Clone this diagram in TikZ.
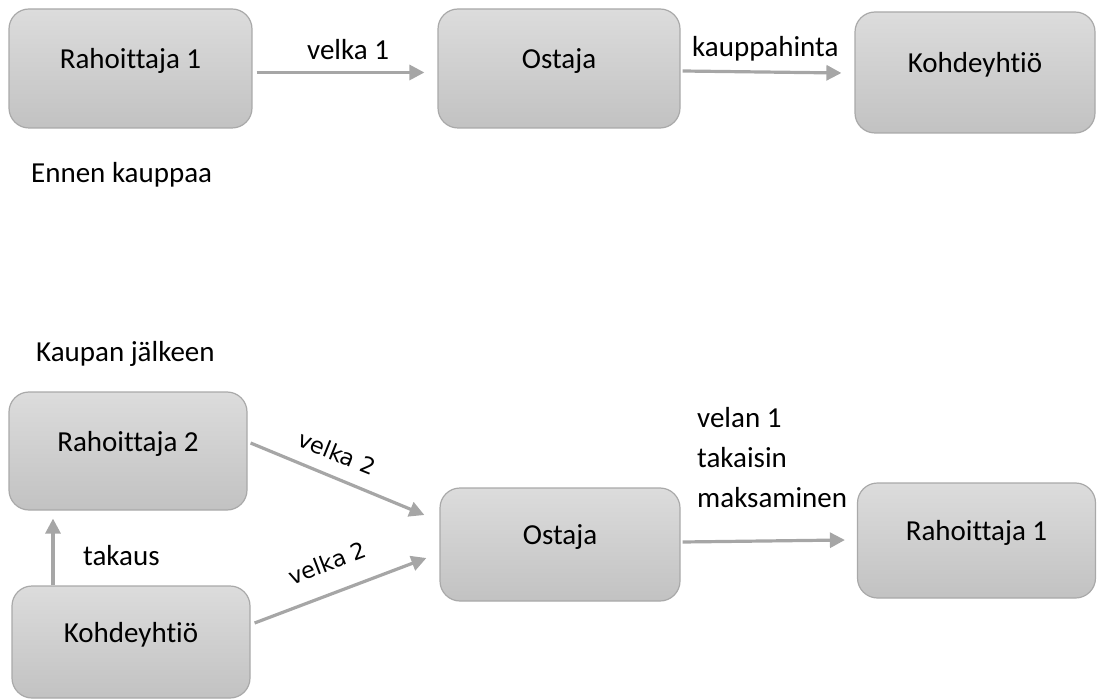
\documentclass[tikz,border=0pt]{standalone}
\usepackage{fontspec}
\setmainfont{Carlito}[Ligatures={NoCommon}]
\newfontfamily\labfont{DejaVu Sans}
\usetikzlibrary{arrows.meta}
\definecolor{boxtop}{HTML}{DCDCDC}
\definecolor{boxbot}{HTML}{C2C2C2}
\definecolor{boxline}{HTML}{A9A9A9}
\definecolor{arr}{HTML}{A6A6A6}
\begin{document}
\begin{tikzpicture}[x=1pt,y=-1pt,
  box/.style={draw=boxline, line width=1.2pt, rounded corners=20pt,
    top color=boxtop, bottom color=boxbot, inner sep=0pt,
    text height=10pt, text depth=10pt,
    font=\fontsize{29}{34}\selectfont},
  txt/.style={anchor=base west, inner sep=0pt, font=\fontsize{29}{34}\selectfont},
  rot/.style={inner sep=0pt, font=\labfont\fontsize{22.5}{26}\selectfont},
  arrow/.style={draw=arr, line width=3.2pt,
    -{Triangle[length=15pt,width=15pt]}, color=arr}]
\useasboundingbox (0,0) rectangle (1097,700);
% top row
\node[box, minimum width=243pt, minimum height=119pt] (r1a) at (130.5,68.5) {Rahoittaja 1};
\node[box, minimum width=242pt, minimum height=119pt] (osa) at (559,68.5) {Ostaja};
\node[box, minimum width=240pt, minimum height=121pt] (ka) at (975,72.5) {Kohdeyhtiö};
% bottom
\node[box, minimum width=238pt, minimum height=118pt] (r2) at (128,451) {Rahoittaja 2};
\node[box, minimum width=240pt, minimum height=113pt] (osb) at (560,544.5) {Ostaja};
\node[box, minimum width=238pt, minimum height=115pt] (r1b) at (976.5,540.5) {Rahoittaja 1};
\node[box, minimum width=238pt, minimum height=112pt] (kb) at (131,642) {Kohdeyhtiö};
% arrows
\draw[arrow] ([shift={(4,4)}]r1a.east) -- ([shift={(-13,4)}]osa.west);
\draw[arrow] ([shift={(2,2.5)}]osa.east) -- ([shift={(-13,0.5)}]ka.west);
\draw[arrow] ([xshift=-78pt]kb.north) -- ([shift={(-75,8)}]r2.south);
\draw[arrow] ([shift={(3,-8)}]r2.east) -- ([shift={(-15,-29.5)}]osb.west);
\draw[arrow] ([shift={(4,-19)}]kb.east) -- ([shift={(-13,13.5)}]osb.west);
\draw[arrow] ([shift={(2,-2.5)}]osb.east) -- ([shift={(-12,-0.5)}]r1b.west);
% labels
\node[txt] (l1) at (307,60) {velka 1};
\node[txt] (l2) at (692,57) {kauppahinta};
\node[txt] (l3) at (31,183) {Ennen kauppaa};
\node[txt] (l4) at (36,362) {Kaupan jälkeen};
\node[txt] (l5) at (83,565) {takaus};
\node[txt] (l6) at (697,427) {velan 1};
\node[txt] (l7) at (697,467) {takaisin};
\node[txt] (l8) at (697,507) {maksaminen};
\node[rot, rotate=-22] (l9) at (337,453) {velka 2};
\node[rot, rotate=21] (l10) at (327,563) {velka 2};
\end{tikzpicture}
\end{document}
